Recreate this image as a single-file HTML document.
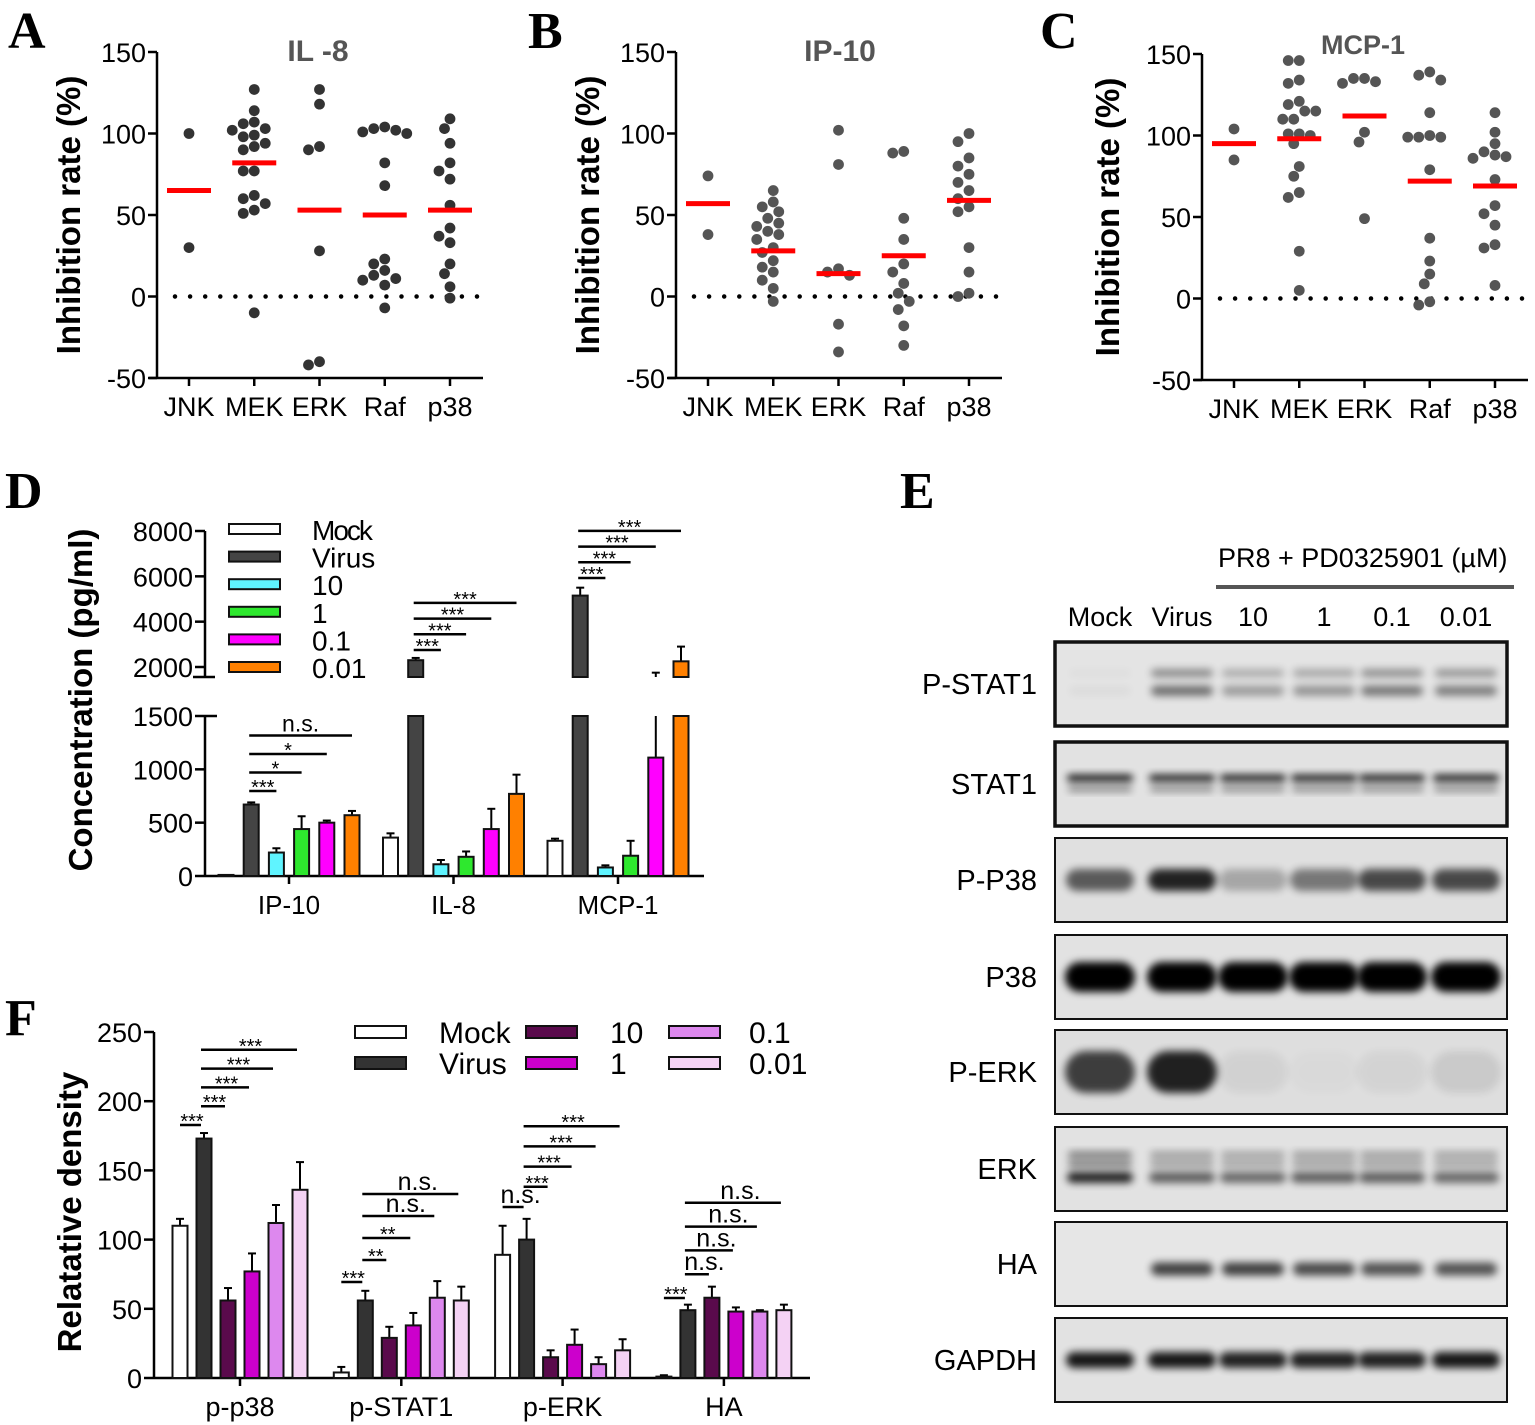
<!DOCTYPE html>
<html><head><meta charset="utf-8">
<style>
html,body{margin:0;padding:0;background:#fff;}
svg{display:block;font-family:"Liberation Sans",sans-serif;}
</style></head>
<body>
<svg id="fig" width="1535" height="1425" viewBox="0 0 1535 1425" xmlns="http://www.w3.org/2000/svg">
<defs>
<filter id="blur" x="-50%" y="-100%" width="200%" height="300%"><feGaussianBlur stdDeviation="4"/></filter>
</defs>
</svg>
<script>
// ---------- Data: scatter panels ----------
const scatterCats = ['JNK','MEK','ERK','Raf','p38'];
const il8Values = [
  [100,30],
  [127,114,107,106,103,102,99,98,94,92,90,77,77,62,60,57,53,51,-10],
  [127,118,92,90,28,-40,-42],
  [104,103,102,101,100,82,68,23,20,16,13,11,10,7,-7],
  [109,103,94,82,77,72,56,42,37,33,20,14,6,-1]
];
const il8Means = [65,82,53,50,53];
const ip10Values = [
  [74,38],
  [65,58,55,52,48,45,43,40,38,35,30,27,22,18,15,10,5,-3],
  [102,81,17,15,13,-17,-34],
  [89,88,48,35,20,15,8,2,-3,-8,-18,-30],
  [100,95,85,80,75,70,65,60,55,52,30,15,2,0]
];
const ip10Means = [57,28,14,25,59];
const mcp1Values = [
  [104,85],
  [146,146,134,132,121,119,115,115,110,110,101,101,100,95,81,75,65,62,29,5],
  [135,135,133,132,102,96,49],
  [139,137,134,114,100,99,99,99,79,37,23,15,9,-2,-4],
  [114,102,95,90,88,87,86,73,57,52,45,33,31,8]
];
const mcp1Means = [95,98,112,72,69];
const scatterTicks = [-50,0,50,100,150];

// ---------- Data: panel D ----------
const dGroups = ['IP-10','IL-8','MCP-1'];
const dSeries = ['Mock','Virus','10','1','0.1','0.01'];
const dMeans = [[10,670,220,440,500,570],[360,2300,110,180,440,770],[330,5150,80,190,1110,2250]];
const dErr = [[0,20,40,120,20,40],[40,100,40,50,190,180],[20,350,20,140,640,650]];
const dLowTicks = [0,500,1000,1500];
const dHighTicks = [2000,4000,6000,8000];
const dSig = [[0,1,2,'***'],[0,1,3,'*'],[0,1,4,'*'],[0,1,5,'n.s.'],
              [1,1,2,'***'],[1,1,3,'***'],[1,1,4,'***'],[1,1,5,'***'],
              [2,1,2,'***'],[2,1,3,'***'],[2,1,4,'***'],[2,1,5,'***']];

// ---------- Data: panel F ----------
const fGroups = ['p-p38','p-STAT1','p-ERK','HA'];
const fSeries = ['Mock','Virus','10','1','0.1','0.01'];
const fMeans = [[110,173,56,77,112,136],[4,56,29,38,58,56],[89,100,15,24,10,20],[1,49,58,48,48,49]];
const fErr = [[5,4,9,13,13,20],[4,7,8,9,12,10],[21,15,5,11,5,8],[1,4,8,3,1,4]];
const fTicks = [0,50,100,150,200,250];
const fSig = [[0,0,1,'***'],[0,1,2,'***'],[0,1,3,'***'],[0,1,4,'***'],[0,1,5,'***'],
              [1,0,1,'***'],[1,1,2,'**'],[1,1,3,'**'],[1,1,4,'n.s.'],[1,1,5,'n.s.'],
              [2,0,1,'n.s.'],[2,1,2,'***'],[2,1,3,'***'],[2,1,4,'***'],[2,1,5,'***'],
              [3,0,1,'***'],[3,1,2,'n.s.'],[3,1,3,'n.s.'],[3,1,4,'n.s.'],[3,1,5,'n.s.']];

// ---------- Data: panel E (blot band intensities per lane) ----------
const blotNames = ['P-STAT1','STAT1','P-P38','P38','P-ERK','ERK','HA','GAPDH'];
const laneNames = ['Mock','Virus','10','1','0.1','0.01'];
const pstat1Int = [0.05,0.8,0.5,0.55,0.75,0.7];
const stat1Int = [0.95,0.9,0.9,0.9,0.9,0.9];
const pp38Int = [0.7,1,0.3,0.55,0.8,0.8];
const p38Int = [1,1,1,1,1,1];
const perkInt = [0.85,1,0.06,0.02,0.05,0.1];
const erkInt = [0.95,0.65,0.6,0.65,0.65,0.6];
const haInt = [0,0.85,0.85,0.8,0.75,0.75];
const gapdhInt = [0.95,0.95,0.9,0.9,0.9,0.95];

// ---------- helpers ----------
const NS='http://www.w3.org/2000/svg';
const svg=document.getElementById('fig');
function mk(tag, attrs, parent){const e=document.createElementNS(NS,tag);for(const k in attrs)e.setAttribute(k,attrs[k]);(parent||svg).appendChild(e);return e;}
function txt(x,y,s,attrs,parent){const e=mk('text',Object.assign({x:x,y:y},attrs),parent);e.textContent=s;return e;}
function line(x1,y1,x2,y2,w,c,parent){return mk('line',{x1:x1,y1:y1,x2:x2,y2:y2,stroke:c||'#000','stroke-width':w||2},parent);}

// ---------- panel letters ----------
[['A',8,48],['B',528,48],['C',1040,48],['D',5,508],['E',900,508],['F',5,1035]].forEach(function(p){
  const t=txt(p[1],p[2],p[0],{'font-family':'Liberation Serif, serif','font-weight':'bold','font-size':52});
  
  
});

// ---------- scatter panels ----------
function scatterPanel(id, ax, y150, yNeg, values, means, title, titleX, titleY, titleSize, dotColor, ylabX){
  const g=mk('g',{});
  
  
  const ppu=(yNeg-y150)/200;
  const yS=function(v){return yNeg-(v+50)*ppu;};
  const xEnd=ax+326;
  const xC=function(i){return ax+32+i*65.25;};
  const ya=line(ax,y150,ax,yNeg,2.5,'#000',g);
  
  
  const xa=line(ax-8,yNeg,xEnd,yNeg,2.5,'#000',g);
  
  
  scatterTicks.forEach(function(t){
    line(ax-9,yS(t),ax,yS(t),2.5,'#000',g);
    const tl=txt(ax-11,yS(t)+10,String(t),{'text-anchor':'end','font-size':27},g);
    
    
  });
  scatterCats.forEach(function(c,i){
    line(xC(i),yNeg,xC(i),yNeg+8,2.5,'#000',g);
    const cl=txt(xC(i),yNeg+38,c,{'text-anchor':'middle','font-size':27},g);
    
    
  });
  const zl=mk('line',{x1:ax+18,y1:yS(0),x2:xEnd-2,y2:yS(0),stroke:'#000','stroke-width':4.5,'stroke-linecap':'round','stroke-dasharray':'0 15.1'},g);
  
  
  const r=5.4, d=11;
  values.forEach(function(arr,i){
    const placed=[];
    arr.slice().sort(function(a,b){return b-a;}).forEach(function(v){
      const yy=yS(v);
      const cands=[0,-0.5,0.5,-1,1,-1.5,1.5,-2,2,-2.5,2.5,-3,3];
      let off=0;
      for(let k=0;k<cands.length;k++){
        const xx=cands[k]*d;
        let ok=true;
        for(let j=0;j<placed.length;j++){const dx=placed[j][0]-xx,dy=placed[j][1]-yy;if(dx*dx+dy*dy<d*d*0.98){ok=false;break;}}
        if(ok){off=xx;break;}
      }
      placed.push([off,yy]);
      const c=mk('circle',{cx:xC(i)+off,cy:yy,r:r,fill:dotColor},g);
      
      
    });
    const m=mk('line',{x1:xC(i)-22,y1:yS(means[i]),x2:xC(i)+22,y2:yS(means[i]),stroke:'#f00','stroke-width':5},g);
    
    
  });
  const tt=txt(titleX,titleY,title,{'text-anchor':'middle','font-size':titleSize,'font-weight':'bold',fill:'#555'},g);
  
  
  const yl=txt(0,0,'Inhibition rate (%)',{'text-anchor':'middle','font-size':33,'font-weight':'bold',transform:'translate('+ylabX+','+((y150+yNeg)/2)+') rotate(-90)'},g);
  
  
}
scatterPanel('il8',157,52,378,il8Values,il8Means,'IL -8',318,61,30,'#333',80);
scatterPanel('ip10',676,52,378,ip10Values,ip10Means,'IP-10',840,61,30,'#555',599);
scatterPanel('mcp1',1202,54,380,mcp1Values,mcp1Means,'MCP-1',1363,54,27,'#555',1119);

// ---------- panel D ----------
(function(){
  const g=mk('g',{});
  
  
  const ax=205, y0=876, yL=716, yBrk=677;
  const lowPPU=(y0-yL)/1500, highPPU=(667-531)/6000;
  const hiMin=2000-(yBrk-667)/highPPU;
  const yLow=function(v){return y0-v*lowPPU;};
  const yHigh=function(v){return 667-(v-2000)*highPPU;};
  const colors=['#fff','#444','#5ff4ff','#2ee82e','#ff00ff','#ff8000'];
  const gx=function(gi){return 289+gi*164.5;};
  const bx=function(gi,si){return gx(gi)+(si-2.5)*25.2;};
  const bw=15;
  line(ax,531,ax,yBrk,2.5,'#000',g);
  line(ax-12,yBrk,ax+10,yBrk,2.5,'#000',g);
  line(ax,yL,ax,y0,2.5,'#000',g);
  line(ax,yL,ax+12,yL,2.5,'#000',g);
  const xa=line(ax,y0,704,y0,2.5,'#000',g);
  
  
  dLowTicks.forEach(function(t){
    line(ax-10,yLow(t),ax,yLow(t),2.5,'#000',g);
    const l=txt(ax-12,yLow(t)+10,String(t),{'text-anchor':'end','font-size':27},g);
    
    
  });
  dHighTicks.forEach(function(t){
    line(ax-10,yHigh(t),ax,yHigh(t),2.5,'#000',g);
    const l=txt(ax-12,yHigh(t)+10,String(t),{'text-anchor':'end','font-size':27},g);
    
    
  });
  dGroups.forEach(function(name,gi){
    line(gx(gi),y0,gx(gi),y0+8,2.5,'#000',g);
    const l=txt(gx(gi),y0+38,name,{'text-anchor':'middle','font-size':26},g);
    
    
    dSeries.forEach(function(sn,si){
      const v=dMeans[gi][si], e=dErr[gi][si], x=bx(gi,si);
      const top=v+e;
      if(e>0){
        if(v<=1500){
          if(top<=1500){line(x,yLow(v),x,yLow(top),2,'#000',g);line(x-4,yLow(top),x+4,yLow(top),2,'#000',g);}
          else{line(x,yLow(v),x,yL,2,'#000',g);
            if(top>hiMin){line(x,yBrk,x,yHigh(top),2,'#000',g);line(x-4,yHigh(top),x+4,yHigh(top),2,'#000',g);}}
        } else {
          line(x,yHigh(v),x,yHigh(top),2,'#000',g);line(x-4,yHigh(top),x+4,yHigh(top),2,'#000',g);
        }
      }
      const lowTop=Math.min(v,1500);
      const b=mk('rect',{x:x-bw/2,y:yLow(lowTop),width:bw,height:Math.max(1,y0-yLow(lowTop)),fill:colors[si],stroke:'#111','stroke-width':2},g);
      
      
      if(v>hiMin){
        const b2=mk('rect',{x:x-bw/2,y:yHigh(v),width:bw,height:yBrk-yHigh(v),fill:colors[si],stroke:'#111','stroke-width':2},g);
        
        
      }
    });
  });
  const sigBase=[791,650,578], sigStep=[-18.5,-15.7,-15.7];
  const lvl=[0,0,0];
  dSig.forEach(function(s){
    const gi=s[0], x1=bx(gi,s[1])-2, x2=bx(gi,s[2]);
    const y=sigBase[gi]+lvl[gi]*sigStep[gi]; lvl[gi]++;
    const l=line(x1,y,x2,y,2.5,'#000',g);
    
    
    const ns=s[3]==='n.s.';
    const t=txt((x1+x2)/2,y-(ns?4:-3),s[3],{'text-anchor':'middle','font-size':ns?23:20},g);
    
    
  });
  dSeries.forEach(function(sn,si){
    const y=529+si*27.6;
    const r=mk('rect',{x:229,y:y-5,width:51,height:10,fill:colors[si],stroke:'#111','stroke-width':2},g);
    
    
    const t=txt(312,y+11,sn,{'font-size':28,'letter-spacing':sn==='Mock'?-2:0},g);
    
    
  });
  const yl=txt(0,0,'Concentration (pg/ml)',{'text-anchor':'middle','font-size':33,'font-weight':'bold',transform:'translate(92,700) rotate(-90)'},g);
  
  
})();

// ---------- panel F ----------
(function(){
  const g=mk('g',{});
  
  
  const ax=154, y0=1378, ppu=(1378-1032)/250;
  const yS=function(v){return y0-v*ppu;};
  const colors=['#fff','#333','#5a0a4c','#cc00cc','#dd88ee','#f4d2f4'];
  const gx=function(gi){return 240+gi*161.3;};
  const bx=function(gi,si){return gx(gi)+(si-2.5)*24;};
  const bw=15;
  line(ax,1032,ax,y0,2.5,'#000',g);
  const xa=line(ax,y0,810,y0,2.5,'#000',g);
  
  
  fTicks.forEach(function(t){
    line(ax-10,yS(t),ax,yS(t),2.5,'#000',g);
    const l=txt(ax-12,yS(t)+10,String(t),{'text-anchor':'end','font-size':27},g);
    
    
  });
  fGroups.forEach(function(name,gi){
    line(gx(gi),y0,gx(gi),y0+8,2.5,'#000',g);
    const l=txt(gx(gi),y0+38,name,{'text-anchor':'middle','font-size':27},g);
    
    
    fSeries.forEach(function(sn,si){
      const v=fMeans[gi][si], e=fErr[gi][si], x=bx(gi,si);
      if(e>0){line(x,yS(v),x,yS(v+e),2,'#000',g);line(x-4,yS(v+e),x+4,yS(v+e),2,'#000',g);}
      const b=mk('rect',{x:x-bw/2,y:yS(v),width:bw,height:Math.max(1,y0-yS(v)),fill:colors[si],stroke:'#111','stroke-width':2},g);
      
      
    });
  });
  const sigBase=[1125,1282,1207,1298], sigStep=[-18.8,-22,-20.2,-23.8];
  const lvl=[0,0,0,0];
  fSig.forEach(function(s){
    const gi=s[0], x1=bx(gi,s[1]), x2=bx(gi,s[2]);
    const y=sigBase[gi]+lvl[gi]*sigStep[gi]; lvl[gi]++;
    const xa1=s[1]===0?x1:x1-3;
    const l=line(xa1,y,x2-3,y,2.5,'#000',g);
    
    
    const ns=s[3]==='n.s.';
    const t=txt((xa1+x2)/2+(ns?6:0),y-(ns?4:-3),s[3],{'text-anchor':'middle','font-size':ns?25:20},g);
    
    
  });
  const legX=[355,526,669], labX=[439,610,749];
  fSeries.forEach(function(sn,si){
    const col=Math.floor(si/2), row=si%2;
    const y=1032+row*31;
    const r=mk('rect',{x:legX[col],y:y-6,width:51,height:12,fill:colors[si],stroke:'#111','stroke-width':2},g);
    
    
    const t=txt(labX[col],y+11,sn,{'font-size':30},g);
    
    
  });
  const yl=txt(0,0,'Relatative density',{'text-anchor':'middle','font-size':33,'font-weight':'bold',transform:'translate(81,1212) rotate(-90)'},g);
  
  
})();

// ---------- panel E (western blots) ----------
(function(){
  const g=mk('g',{});
  
  
  const h=txt(1218,567,'PR8 + PD0325901 (µM)',{'font-size':27},g);
  
  
  line(1216,587,1514,587,4,'#555',g);
  const laneX=[1100,1182,1253,1324,1392,1466];
  laneNames.forEach(function(n,i){
    const t=txt(laneX[i],626,n,{'text-anchor':'middle','font-size':27},g);
    
    
  });
  const tops=[642,742,838,935,1030,1127,1222,1318];
  const bg=['#e4e4e4','#e2e2e2','#e0e0e0','#e2e2e2','#dedede','#e2e2e2','#e6e6e6','#e2e2e2'];
  const borderW=[3.5,3.5,2,2,2,2,2,2];
  const ints=[pstat1Int,stat1Int,pp38Int,p38Int,perkInt,erkInt,haInt,gapdhInt];
  const bandDefs=[
    [[0.37,8,62,0.5],[0.58,10,62,0.65]],
    [[0.43,7,66,1],[0.56,5,64,0.5]],
    [[0.5,22,68,0.85]],
    [[0.5,30,70,1]],
    [[0.5,42,70,0.85]],
    [[0.33,6,64,0.55],[0.44,6,64,0.55],[0.6,11,66,0.9]],
    [[0.56,13,62,0.85]],
    [[0.5,16,68,0.95]]
  ];
  blotNames.forEach(function(name,bi){
    const y=tops[bi], hh=84;
    const bg2=mk('g',{},g);
    
    
    mk('rect',{x:1055,y:y,width:452,height:hh,fill:bg[bi]},bg2);
    ints[bi].forEach(function(v,li){
      bandDefs[bi].forEach(function(bd){
        const bandOp=v*bd[3];
        if(bandOp<0.01) return;
        const band=mk('rect',{x:laneX[li]-bd[2]/2,y:y+hh*bd[0]-bd[1]/2,width:bd[2],height:bd[1],rx:bd[1]/2,fill:'#000',opacity:Math.min(1,bandOp),filter:'url(#blur)'},bg2);
        
        
      });
    });
    mk('rect',{x:1055,y:y,width:452,height:hh,fill:'none',stroke:'#111','stroke-width':borderW[bi]},bg2);
    const t=txt(1037,y+hh/2+10,name,{'text-anchor':'end','font-size':29},g);
    
    
  });
})();
</script>
</body></html>
